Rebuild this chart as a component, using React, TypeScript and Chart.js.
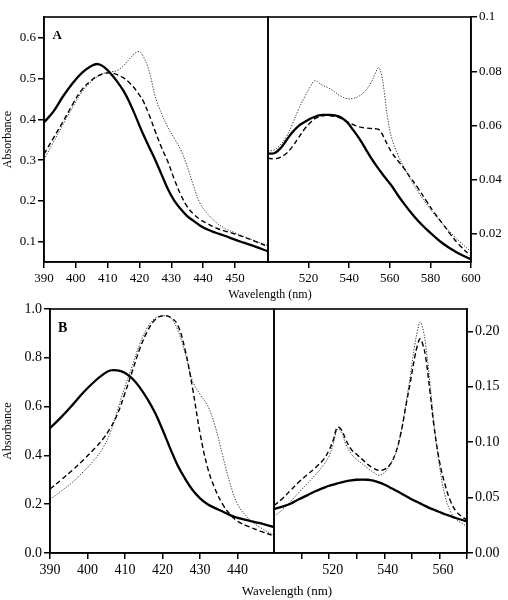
import React, { useEffect, useRef } from 'react';
import { Chart, registerables } from 'chart.js';

Chart.register(...registerables);

// ---------- DATA ----------
// Panel A, Soret region
const A_L_WL = [390, 393, 396, 399, 402, 405, 407, 409, 411, 413, 415, 417, 419, 420, 421, 423, 425, 427, 429, 431, 433, 435, 437, 439, 441, 444, 447, 450, 453, 456, 460.5];
const A_L_SOLID = [0.393, 0.42, 0.457, 0.489, 0.515, 0.532, 0.536, 0.528, 0.512, 0.493, 0.47, 0.44, 0.404, 0.385, 0.367, 0.333, 0.3, 0.264, 0.228, 0.2, 0.18, 0.163, 0.151, 0.14, 0.131, 0.122, 0.114, 0.105, 0.097, 0.089, 0.076];
const A_L_DASHED = [0.315, 0.355, 0.395, 0.437, 0.474, 0.497, 0.507, 0.513, 0.514, 0.51, 0.502, 0.489, 0.471, 0.46, 0.448, 0.412, 0.37, 0.33, 0.295, 0.252, 0.215, 0.186, 0.168, 0.155, 0.146, 0.134, 0.126, 0.119, 0.111, 0.102, 0.088];
const A_L_DOTTED = [0.302, 0.345, 0.388, 0.43, 0.468, 0.494, 0.506, 0.514, 0.517, 0.52, 0.532, 0.55, 0.565, 0.566, 0.558, 0.52, 0.455, 0.413, 0.38, 0.353, 0.325, 0.285, 0.237, 0.195, 0.172, 0.148, 0.132, 0.122, 0.112, 0.103, 0.09];
const A_L_XTICKS = [390, 400, 410, 420, 430, 440, 450];
const A_L_XLABELS = ['390', '400', '410', '420', '430', '440', '450'];
const A_L_YTICKS = [0.1, 0.2, 0.3, 0.4, 0.5, 0.6];
const A_L_YLABELS = ['0.1', '0.2', '0.3', '0.4', '0.5', '0.6'];

// Panel A, Q-band region
const A_R_WL = [500, 503, 506, 509, 512, 515, 518, 521, 523, 525, 527, 530, 533, 536, 539, 542, 545, 548, 551, 553, 554.5, 556, 557.5, 559, 561, 564, 567, 570, 574, 578, 582, 586, 590, 594, 600];
const A_R_SOLID = [0.0497, 0.0498, 0.0515, 0.0545, 0.0575, 0.0598, 0.0613, 0.0626, 0.0632, 0.0637, 0.0639, 0.0639, 0.0637, 0.063, 0.0612, 0.0583, 0.0552, 0.0515, 0.0478, 0.0456, 0.044, 0.0425, 0.041, 0.0396, 0.0377, 0.0343, 0.0312, 0.0283, 0.0248, 0.0218, 0.0191, 0.0166, 0.0146, 0.0128, 0.0107];
const A_R_DASHED = [0.048, 0.0477, 0.0483, 0.0497, 0.0522, 0.0555, 0.0587, 0.0612, 0.0625, 0.0632, 0.0636, 0.0637, 0.0633, 0.0626, 0.0614, 0.0603, 0.0595, 0.0591, 0.0589, 0.0588, 0.0586, 0.0572, 0.055, 0.0527, 0.05, 0.047, 0.0442, 0.041, 0.0368, 0.0322, 0.0278, 0.0238, 0.0198, 0.0162, 0.0118];
const A_R_DOTTED = [0.0506, 0.051, 0.0528, 0.0558, 0.0605, 0.0659, 0.0705, 0.0745, 0.0765, 0.0758, 0.0748, 0.0738, 0.0723, 0.0708, 0.0699, 0.07, 0.0709, 0.0728, 0.0762, 0.0795, 0.0813, 0.0785, 0.071, 0.0625, 0.0552, 0.0492, 0.0446, 0.0405, 0.0355, 0.0312, 0.0272, 0.0238, 0.0205, 0.0175, 0.0135];
const A_R_XTICKS = [520, 540, 560, 580, 600];
const A_R_XLABELS = ['520', '540', '560', '580', '600'];
const A_R_YTICKS = [0.02, 0.04, 0.06, 0.08, 0.1];
const A_R_YLABELS = ['0.02', '0.04', '0.06', '0.08', '0.1'];

// Panel B, Soret region
const B_L_WL = [390, 393, 396, 399, 402, 404, 406, 408, 410, 412, 414, 416, 418, 420, 422, 424, 426, 428, 430, 432, 434, 436, 438, 440, 443, 446, 450];
const B_L_SOLID = [0.512, 0.557, 0.607, 0.66, 0.705, 0.73, 0.748, 0.748, 0.738, 0.714, 0.677, 0.63, 0.575, 0.505, 0.43, 0.36, 0.305, 0.258, 0.224, 0.2, 0.184, 0.17, 0.155, 0.144, 0.133, 0.122, 0.105];
const B_L_DASHED = [0.262, 0.3, 0.34, 0.383, 0.43, 0.465, 0.51, 0.57, 0.656, 0.748, 0.84, 0.91, 0.956, 0.972, 0.967, 0.935, 0.833, 0.675, 0.49, 0.35, 0.262, 0.2, 0.158, 0.13, 0.108, 0.09, 0.068];
const B_L_DOTTED = [0.219, 0.254, 0.29, 0.335, 0.385, 0.428, 0.49, 0.585, 0.683, 0.77, 0.86, 0.925, 0.963, 0.972, 0.966, 0.915, 0.82, 0.705, 0.65, 0.605, 0.52, 0.4, 0.285, 0.2, 0.14, 0.105, 0.07];
const B_L_XTICKS = [390, 400, 410, 420, 430, 440];
const B_L_XLABELS = ['390', '400', '410', '420', '430', '440'];
const B_L_YTICKS = [0, 0.2, 0.4, 0.6, 0.8, 1.0];
const B_L_YLABELS = ['0.0', '0.2', '0.4', '0.6', '0.8', '1.0'];

// Panel B, Q-band region
const B_R_WL = [500, 503, 506, 509, 512, 515, 518, 520, 521.5, 523, 524.5, 526, 528, 530, 532, 534, 536, 538, 540, 542, 544, 546, 548, 549.5, 551, 552, 553, 554, 555, 556.5, 558, 560, 562, 564, 566, 568, 570];
const B_R_SOLID = [0.0398, 0.0418, 0.0445, 0.0485, 0.052, 0.0557, 0.0588, 0.0607, 0.0618, 0.0628, 0.0638, 0.0646, 0.0655, 0.0661, 0.0663, 0.0661, 0.0653, 0.0638, 0.0618, 0.0592, 0.0566, 0.054, 0.0512, 0.049, 0.0472, 0.046, 0.0448, 0.0435, 0.0423, 0.0405, 0.039, 0.037, 0.035, 0.0333, 0.0316, 0.03, 0.0285];
const B_R_DASHED = [0.0428, 0.049, 0.0565, 0.064, 0.0705, 0.077, 0.0845, 0.093, 0.102, 0.1135, 0.111, 0.1025, 0.0935, 0.089, 0.0845, 0.08, 0.0765, 0.0745, 0.0755, 0.0795, 0.0895, 0.108, 0.135, 0.155, 0.176, 0.187, 0.1934, 0.188, 0.177, 0.147, 0.115, 0.083, 0.062, 0.047, 0.0378, 0.033, 0.0298];
const B_R_DOTTED = [0.0331, 0.039, 0.0465, 0.0545, 0.0625, 0.0705, 0.0795, 0.0875, 0.0985, 0.1115, 0.109, 0.0985, 0.0895, 0.0843, 0.0805, 0.0765, 0.073, 0.0702, 0.0725, 0.0795, 0.089, 0.108, 0.137, 0.161, 0.187, 0.2, 0.2084, 0.2025, 0.188, 0.155, 0.117, 0.079, 0.052, 0.0375, 0.0303, 0.027, 0.024];
const B_R_XTICKS = [510, 520, 530, 540, 550, 560, 570];
const B_R_XLABELS = ['', '520', '', '540', '', '560', ''];
const B_R_YTICKS = [0, 0.05, 0.1, 0.15, 0.2];
const B_R_YLABELS = ['0.00', '0.05', '0.10', '0.15', '0.20'];

// ---------- LAYOUT / STYLE ----------
const W = 508;
const H = 600;
const FONT = '"Liberation Serif", "Times New Roman", serif';

type TextItem = { text: string; x: number; y: number; size: number; bold?: boolean; align?: CanvasTextAlign; baseline?: CanvasTextBaseline };

type Panel = {
  wl: number[]; solid: number[]; dashed: number[]; dotted: number[];
  xMin: number; xMax: number; xTicks: number[]; xLabels: string[];
  yMin: number; yMax: number; yTicks: number[]; yLabels: string[];
  yPos: 'left' | 'right';
  area: { left: number; right: number; top: number; bottom: number };
  yWidth: number; xHeight: number; tickSize: number; labelOffset: number;
  yTitle?: string;
  texts: TextItem[];
};

const PANELS: Panel[] = [
  {
    wl: A_L_WL, solid: A_L_SOLID, dashed: A_L_DASHED, dotted: A_L_DOTTED,
    xMin: 390, xMax: 460.4, xTicks: A_L_XTICKS, xLabels: A_L_XLABELS,
    yMin: 0.0502, yMax: 0.6515, yTicks: A_L_YTICKS, yLabels: A_L_YLABELS,
    yPos: 'left', area: { left: 44, right: 268, top: 17, bottom: 262 },
    yWidth: 44, xHeight: 30, tickSize: 13, labelOffset: 0, yTitle: 'Absorbance',
    texts: [{ text: 'A', x: 52.5, y: 38.5, size: 13, bold: true, align: 'left', baseline: 'alphabetic' }],
  },
  {
    wl: A_R_WL, solid: A_R_SOLID, dashed: A_R_DASHED, dotted: A_R_DOTTED,
    xMin: 500, xMax: 600, xTicks: A_R_XTICKS, xLabels: A_R_XLABELS,
    yMin: 0.0097, yMax: 0.1, yTicks: A_R_YTICKS, yLabels: A_R_YLABELS,
    yPos: 'right', area: { left: 268, right: 471, top: 17, bottom: 262 },
    yWidth: 37, xHeight: 30, tickSize: 13, labelOffset: 0,
    texts: [{ text: 'Wavelength (nm)', x: 270, y: 295, size: 12, align: 'center', baseline: 'middle' }],
  },
  {
    wl: B_L_WL, solid: B_L_SOLID, dashed: B_L_DASHED, dotted: B_L_DOTTED,
    xMin: 390, xMax: 449.7, xTicks: B_L_XTICKS, xLabels: B_L_XLABELS,
    yMin: 0, yMax: 1.0, yTicks: B_L_YTICKS, yLabels: B_L_YLABELS,
    yPos: 'left', area: { left: 50, right: 274, top: 309, bottom: 553 },
    yWidth: 50, xHeight: 30, tickSize: 14, labelOffset: 0, yTitle: 'Absorbance',
    texts: [{ text: 'B', x: 58, y: 331.5, size: 14, bold: true, align: 'left', baseline: 'alphabetic' }],
  },
  {
    wl: B_R_WL, solid: B_R_SOLID, dashed: B_R_DASHED, dotted: B_R_DOTTED,
    xMin: 500, xMax: 570, xTicks: B_R_XTICKS, xLabels: B_R_XLABELS,
    yMin: 0, yMax: 0.2202, yTicks: B_R_YTICKS, yLabels: B_R_YLABELS,
    yPos: 'right', area: { left: 274, right: 467, top: 309, bottom: 553 },
    yWidth: 41, xHeight: 30, tickSize: 14, labelOffset: 3.5,
    texts: [{ text: 'Wavelength (nm)', x: 287, y: 591.5, size: 13, align: 'center', baseline: 'middle' }],
  },
];

const framePlugin = {
  id: 'frame',
  afterDraw(chart: any) {
    const { ctx, chartArea } = chart;
    ctx.save();
    ctx.strokeStyle = '#000';
    ctx.lineWidth = 1.6;
    ctx.strokeRect(chartArea.left, chartArea.top, chartArea.right - chartArea.left, chartArea.bottom - chartArea.top);
    ctx.restore();
  },
};

const makeTextPlugin = (texts: TextItem[]) => ({
  id: 'freeText',
  afterDraw(chart: any) {
    const ctx = chart.ctx;
    ctx.save();
    ctx.fillStyle = '#000';
    texts.forEach((t) => {
      ctx.font = `${t.bold ? 'bold ' : ''}${t.size}px ${FONT}`;
      ctx.textAlign = t.align || 'left';
      ctx.textBaseline = t.baseline || 'alphabetic';
      ctx.fillText(t.text, t.x, t.y);
    });
    ctx.restore();
  },
});

const lineDs = (wl: number[], vals: number[], style: 'solid' | 'dashed' | 'dotted') => ({
  data: wl.map((x, i) => ({ x, y: vals[i] })),
  borderColor: style === 'dotted' ? '#3a3a3a' : '#000',
  borderWidth: style === 'solid' ? 2.3 : style === 'dashed' ? 1.4 : 1.0,
  borderDash: style === 'solid' ? [] : style === 'dashed' ? [5, 3] : [1.3, 1.5],
  pointRadius: 0,
  fill: false,
  tension: 0.4,
});

function buildChart(canvas: HTMLCanvasElement, p: Panel) {
  const padding = p.yPos === 'left'
    ? { left: p.area.left - p.yWidth, right: W - p.area.right, top: p.area.top, bottom: H - p.area.bottom - p.xHeight }
    : { left: p.area.left, right: W - p.area.right - p.yWidth, top: p.area.top, bottom: H - p.area.bottom - p.xHeight };
  const grid = { display: true, drawOnChartArea: false, drawTicks: true, tickLength: 6, color: '#000', lineWidth: 1.5 };
  const border = { display: true, color: '#000', width: 1.6 };
  const tickFont = { family: FONT, size: p.tickSize };
  return new Chart(canvas, {
    type: 'line',
    data: {
      datasets: [
        lineDs(p.wl, p.solid, 'solid'),
        lineDs(p.wl, p.dashed, 'dashed'),
        lineDs(p.wl, p.dotted, 'dotted'),
      ] as any,
    },
    options: {
      responsive: false,
      animation: false,
      events: [],
      layout: { padding },
      plugins: { legend: { display: false }, tooltip: { enabled: false }, title: { display: false } },
      scales: {
        x: {
          type: 'linear',
          position: 'bottom',
          min: p.xMin,
          max: p.xMax,
          afterBuildTicks: (s: any) => { s.ticks = p.xTicks.map((v) => ({ value: v })); },
          afterFit: (s: any) => { s.height = p.xHeight; },
          ticks: {
            autoSkip: false, maxRotation: 0, minRotation: 0, padding: 3, color: '#000', font: tickFont,
            labelOffset: p.labelOffset,
            callback: (v: any) => { const i = p.xTicks.indexOf(Number(v)); return i >= 0 ? p.xLabels[i] : ''; },
          },
          grid, border,
        },
        y: {
          type: 'linear',
          position: p.yPos,
          min: p.yMin,
          max: p.yMax,
          afterBuildTicks: (s: any) => { s.ticks = p.yTicks.map((v) => ({ value: v })); },
          afterFit: (s: any) => { s.width = p.yWidth; },
          ticks: {
            autoSkip: false, padding: 2, color: '#000', font: tickFont,
            callback: (v: any) => { const i = p.yTicks.findIndex((t) => Math.abs(t - Number(v)) < 1e-9); return i >= 0 ? p.yLabels[i] : ''; },
          },
          title: p.yTitle
            ? { display: true, text: p.yTitle, color: '#000', font: { family: FONT, size: 12 }, padding: { top: 1, bottom: 0 } }
            : { display: false },
          grid, border,
        },
      },
    } as any,
    plugins: [framePlugin, makeTextPlugin(p.texts)],
  });
}

export default function App() {
  const refs = [useRef<HTMLCanvasElement>(null), useRef<HTMLCanvasElement>(null), useRef<HTMLCanvasElement>(null), useRef<HTMLCanvasElement>(null)];
  useEffect(() => {
    const charts = PANELS.map((p, i) => buildChart(refs[i].current as HTMLCanvasElement, p));
    return () => charts.forEach((c) => c.destroy());
  }, []);
  return (
    <div style={{ position: 'absolute', left: 0, top: 0, width: W, height: H, background: '#fff', overflow: 'hidden' }}>
      {refs.map((r, i) => (
        <canvas key={i} ref={r} width={W} height={H} style={{ position: 'absolute', left: 0, top: 0, width: W, height: H }} />
      ))}
    </div>
  );
}
